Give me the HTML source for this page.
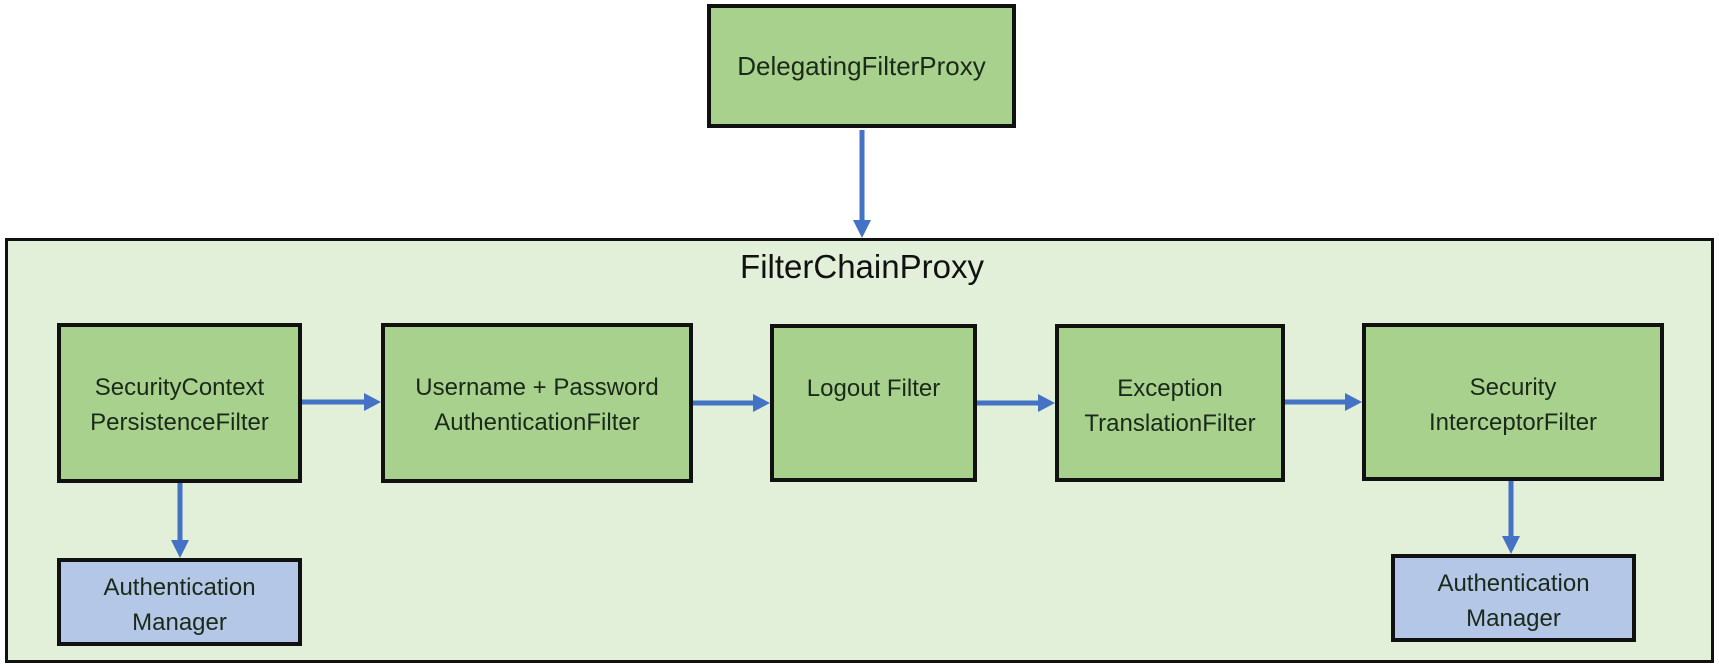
<!DOCTYPE html>
<html><head><style>
body{margin:0;width:1719px;height:668px;background:#fff;position:relative;overflow:hidden;font-family:"Liberation Sans",sans-serif;}
.b{position:absolute;box-sizing:border-box;border:4px solid #111;background:#a9d18e;color:#1a2a1a;text-align:center;font-size:24px;line-height:35px;white-space:nowrap;}
.bl{background:#b4c7e7;}
</style></head><body>
<div class="b" style="left:5px;top:238px;width:1709px;height:425px;background:#e2f0d9;border-width:3px"></div>
<div style="position:absolute;left:612px;top:248px;width:500px;text-align:center;font-size:33px;color:#111">FilterChainProxy</div>
<div class="b" style="left:707px;top:4px;width:309px;height:124px;font-size:26px;line-height:116px">DelegatingFilterProxy</div>
<div class="b" style="left:57px;top:323px;width:245px;height:160px;padding-top:43px">SecurityContext<br>PersistenceFilter</div>
<div class="b" style="left:381px;top:323px;width:312px;height:160px;padding-top:43px">Username + Password<br>AuthenticationFilter</div>
<div class="b" style="left:770px;top:324px;width:207px;height:158px;padding-top:43px">Logout Filter</div>
<div class="b" style="left:1055px;top:324px;width:230px;height:158px;padding-top:43px">Exception<br>TranslationFilter</div>
<div class="b" style="left:1362px;top:323px;width:302px;height:158px;padding-top:43px">Security<br>InterceptorFilter</div>
<div class="b bl" style="left:57px;top:558px;width:245px;height:88px;padding-top:8px">Authentication<br>Manager</div>
<div class="b bl" style="left:1391px;top:554px;width:245px;height:88px;padding-top:8px">Authentication<br>Manager</div>
<svg width="1719" height="668" style="position:absolute;left:0;top:0">
<g stroke="#4472c4" stroke-width="5" fill="#4472c4">
<line x1="862" y1="130" x2="862" y2="222"/><polygon points="853,220 871,220 862,238" stroke="none"/>
<line x1="302" y1="402" x2="366" y2="402"/><polygon points="364,393 364,411 381,402" stroke="none"/>
<line x1="693" y1="403" x2="755" y2="403"/><polygon points="753,394 753,412 770,403" stroke="none"/>
<line x1="977" y1="403" x2="1040" y2="403"/><polygon points="1038,394 1038,412 1055,403" stroke="none"/>
<line x1="1285" y1="402" x2="1347" y2="402"/><polygon points="1345,393 1345,411 1362,402" stroke="none"/>
<line x1="180" y1="483" x2="180" y2="542"/><polygon points="171,540 189,540 180,558" stroke="none"/>
<line x1="1511" y1="481" x2="1511" y2="538"/><polygon points="1502,536 1520,536 1511,554" stroke="none"/>
</g></svg>
</body></html>
